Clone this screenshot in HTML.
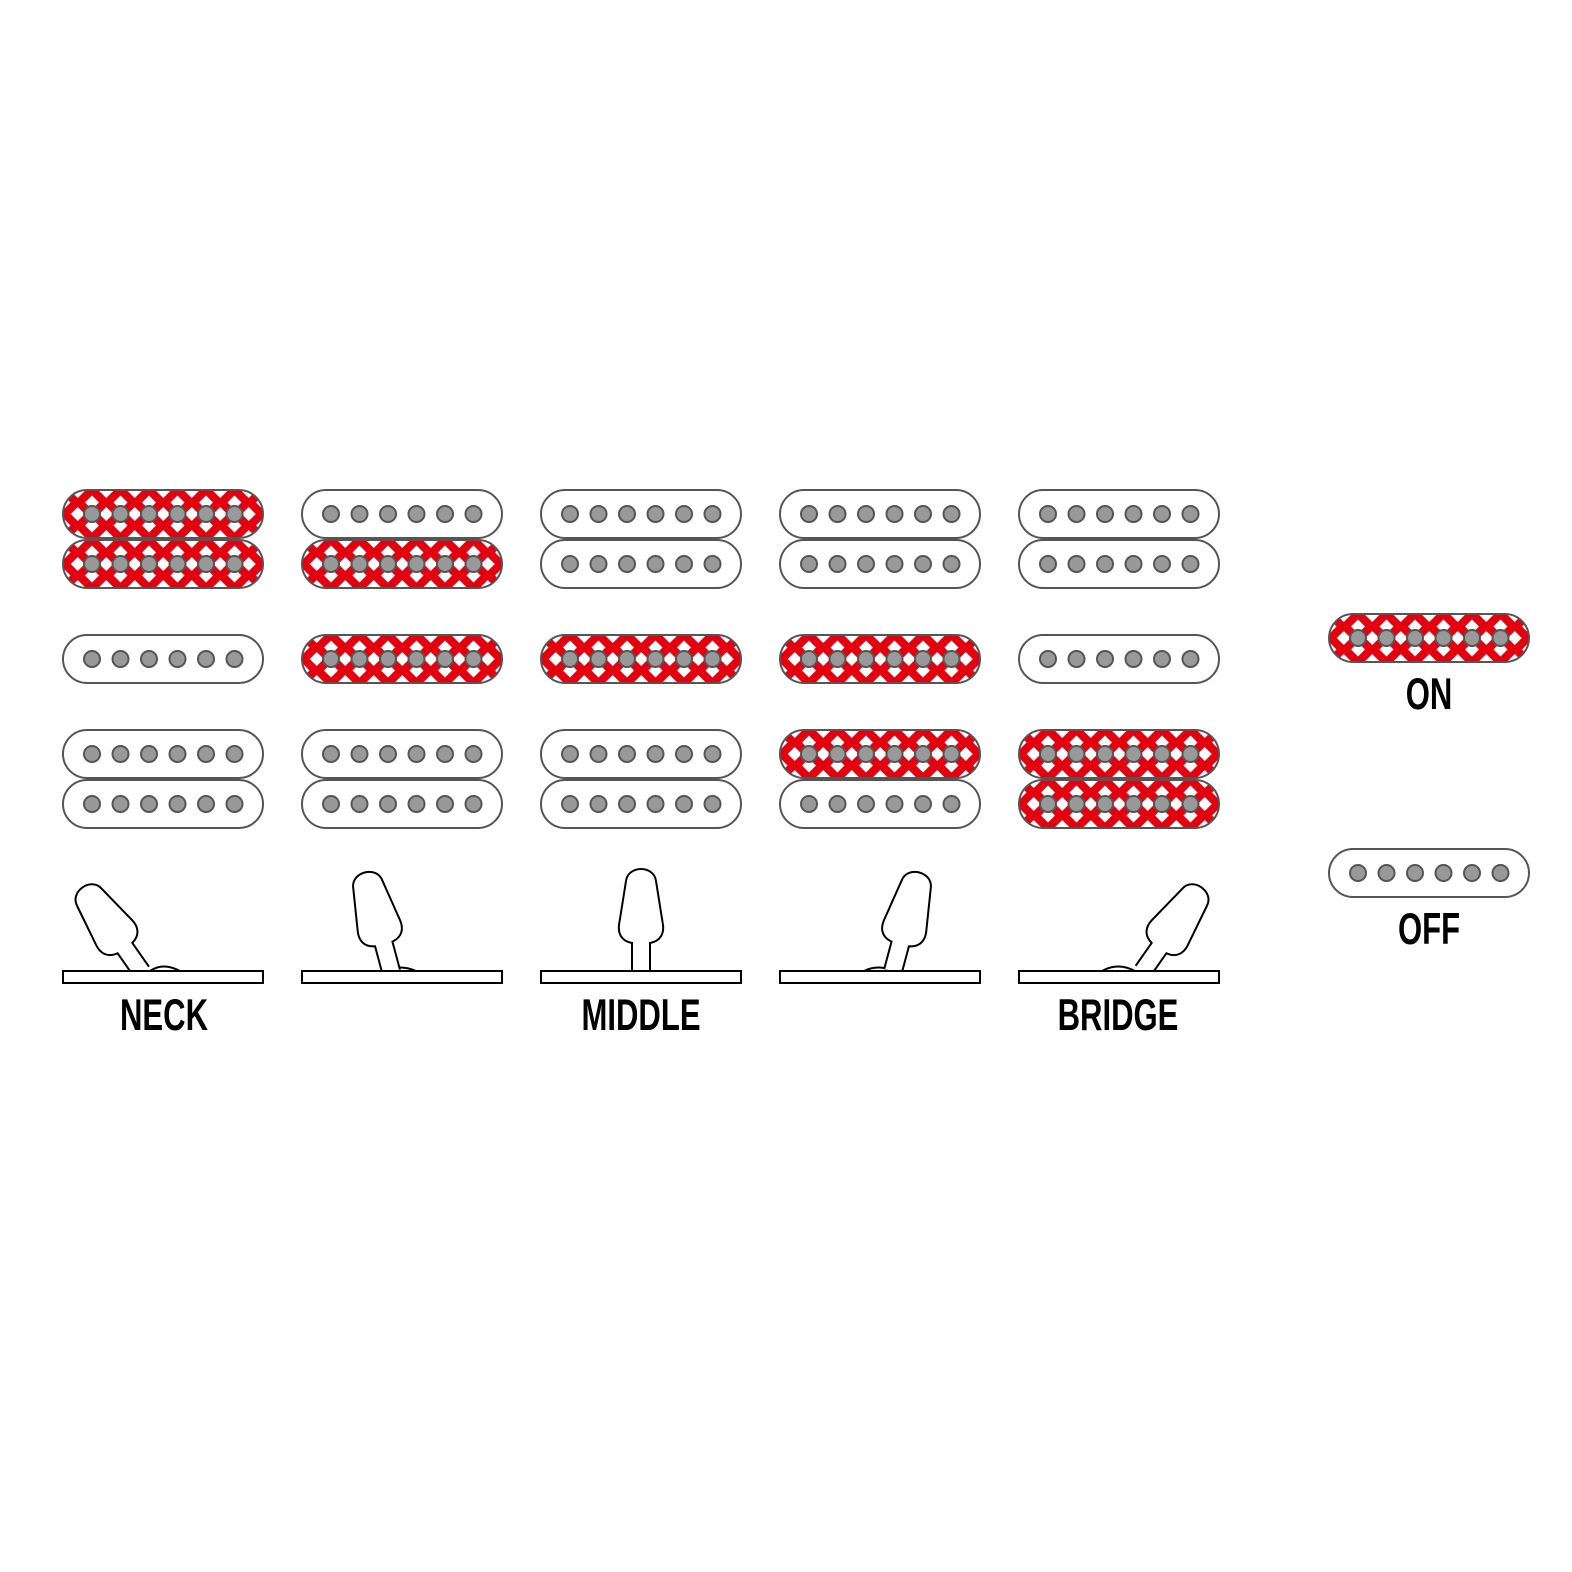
<!DOCTYPE html>
<html><head><meta charset="utf-8"><style>
html,body{margin:0;padding:0;background:#fff;overflow:hidden}
svg{display:block}
.lbl{font-family:"Liberation Sans Narrow","Liberation Sans",sans-serif;font-weight:bold;font-size:42px;fill:#000;text-anchor:middle}
</style></head><body>
<svg width="1572" height="1572" viewBox="0 0 1572 1572" xmlns="http://www.w3.org/2000/svg">
<defs>
<pattern id="dia" patternUnits="userSpaceOnUse" x="14.75" y="12.5" width="28.5" height="23">
<rect width="28.5" height="23" fill="#e3000f"/>
<path d="M14.25,-7 L21.25,0 L14.25,7 L7.25,0Z M14.25,16 L21.25,23 L14.25,30 L7.25,23Z M0,4.5 L7,11.5 L0,18.5 L-7,11.5Z M28.5,4.5 L35.5,11.5 L28.5,18.5 L21.5,11.5Z" fill="#fff"/>
</pattern>
<g id="poles">
<circle cx="29" cy="24" r="8"/><circle cx="57.5" cy="24" r="8"/><circle cx="86" cy="24" r="8"/><circle cx="114.5" cy="24" r="8"/><circle cx="143" cy="24" r="8"/><circle cx="171.5" cy="24" r="8"/>
</g>
<g id="pw">
<rect x="0" y="0" width="200" height="48" rx="24" fill="#fff" stroke="#555" stroke-width="2"/>
<use href="#poles" fill="#999" stroke="#555" stroke-width="2"/>
</g>
<g id="pr">
<rect x="0" y="0" width="200" height="48" rx="24" fill="url(#dia)" stroke="#555" stroke-width="2"/>
<use href="#poles" fill="#999" stroke="#555" stroke-width="2"/>
</g>
<g id="lever">
<path d="M-9,0 L-9,-28 C-20,-30 -23,-38 -22,-46 L-15,-90 C-13,-106 13,-106 15,-90 L22,-46 C23,-38 20,-30 9,-28 L9,1" fill="#fff" stroke="#000" stroke-width="2"/>
</g>
</defs>

<use href="#pr" x="63" y="490"/><use href="#pr" x="63" y="540"/>
<use href="#pw" x="63" y="635"/>
<use href="#pw" x="63" y="730"/><use href="#pw" x="63" y="780"/>

<use href="#pw" x="302" y="490"/><use href="#pr" x="302" y="540"/>
<use href="#pr" x="302" y="635"/>
<use href="#pw" x="302" y="730"/><use href="#pw" x="302" y="780"/>

<use href="#pw" x="541" y="490"/><use href="#pw" x="541" y="540"/>
<use href="#pr" x="541" y="635"/>
<use href="#pw" x="541" y="730"/><use href="#pw" x="541" y="780"/>

<use href="#pw" x="780" y="490"/><use href="#pw" x="780" y="540"/>
<use href="#pr" x="780" y="635"/>
<use href="#pr" x="780" y="730"/><use href="#pw" x="780" y="780"/>

<use href="#pw" x="1019" y="490"/><use href="#pw" x="1019" y="540"/>
<use href="#pw" x="1019" y="635"/>
<use href="#pr" x="1019" y="730"/><use href="#pr" x="1019" y="780"/>

<use href="#pr" x="1329" y="614"/>
<use href="#pw" x="1329" y="849"/>
<text class="lbl" transform="translate(1429,709) scale(0.74,1.05)">ON</text>
<text class="lbl" transform="translate(1429,944) scale(0.74,1.05)">OFF</text>

<g fill="#fff" stroke="#000" stroke-width="2">
<path d="M150,971 Q163,962 180,971"/>
<path d="M385,971 Q400,964 416,971"/>
<path d="M864,971 Q878,964 893,971"/>
<path d="M1102,971 Q1118,962 1135,971"/>
</g>
<g transform="translate(141,971) rotate(-35)"><use href="#lever"/></g>
<g transform="translate(391,971) rotate(-15)"><use href="#lever"/></g>
<g transform="translate(641,971)"><use href="#lever"/></g>
<g transform="translate(893,971) rotate(15)"><use href="#lever"/></g>
<g transform="translate(1143,971) rotate(35)"><use href="#lever"/></g>
<g fill="#fff" stroke="#000" stroke-width="2">
<rect x="63" y="971" width="200" height="12"/>
<rect x="302" y="971" width="200" height="12"/>
<rect x="541" y="971" width="200" height="12"/>
<rect x="780" y="971" width="200" height="12"/>
<rect x="1019" y="971" width="200" height="12"/>
</g>
<text class="lbl" transform="translate(164,1030) scale(0.74,1.05)">NECK</text>
<text class="lbl" transform="translate(641,1030) scale(0.74,1.05)">MIDDLE</text>
<text class="lbl" transform="translate(1118,1030) scale(0.74,1.05)">BRIDGE</text>
</svg>
</body></html>
